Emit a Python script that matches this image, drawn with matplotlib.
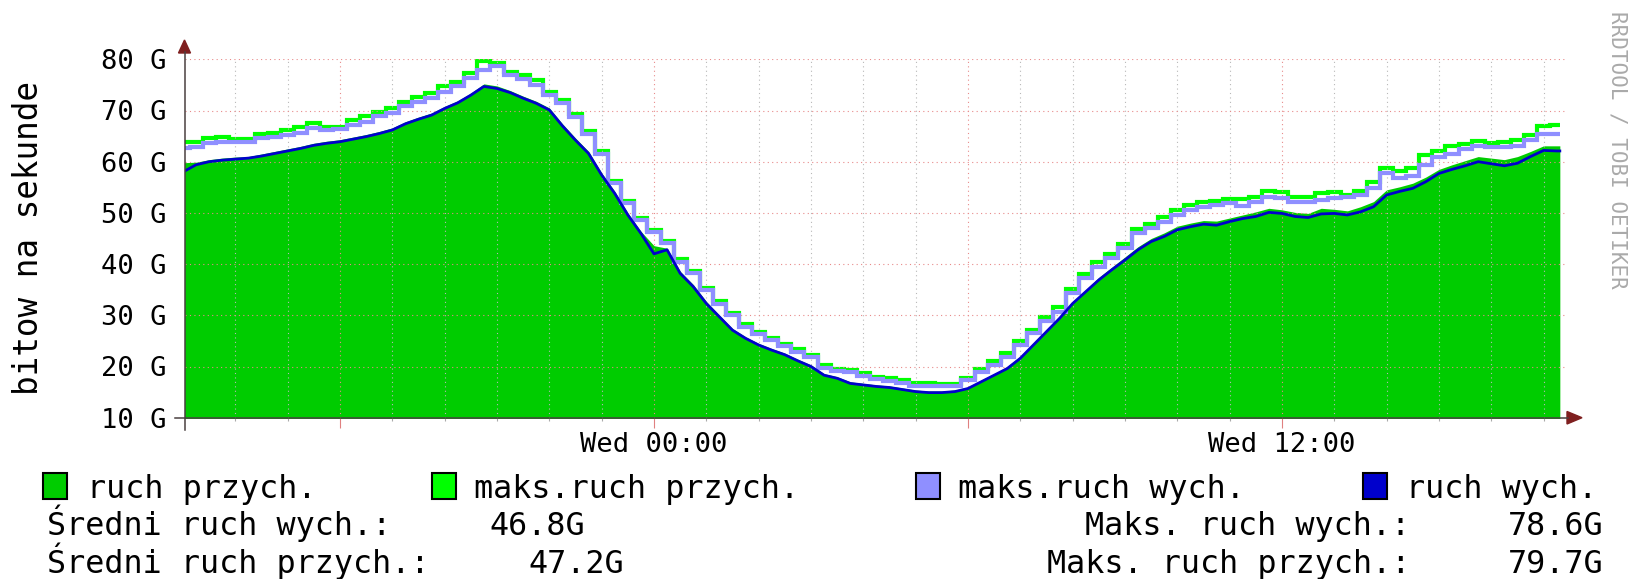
import numpy as np
import matplotlib
matplotlib.use("Agg")
import matplotlib.pyplot as plt
from matplotlib.lines import Line2D
from matplotlib.patches import Polygon, Rectangle

W, H = 1632, 579

# time axis: hours relative to Wed 00:00, 15 minute samples
hours = np.arange(-9.0, 17.26, 0.25)
data_end = 17.31

# ruch przych. (avg in), G bit/s
in_avg = [
    59.8, 59.9, 60.4, 60.7, 60.9, 61.0, 61.5, 62.0, 62.5, 63.0, 63.6, 64.0, 64.3, 64.8,
    65.3, 65.9, 66.6, 67.8, 68.7, 69.5, 70.8, 71.9, 73.4, 75.2, 74.8, 73.9, 72.8, 71.8,
    70.5, 67.4, 64.6, 62.0, 57.8, 54.2, 50.0, 46.4, 43.6, 43.1, 38.6, 36.0, 32.7, 30.0,
    27.4, 25.8, 24.5, 23.5, 22.6, 21.4, 20.3, 18.6, 18.0, 17.0, 16.7, 16.4, 16.2,
    15.8, 15.4, 15.2, 15.2, 15.4, 16.0, 17.3, 18.6, 20.0, 22.0, 24.6, 27.2, 29.8, 32.7,
    35.0, 37.4, 39.4, 41.4, 43.4, 45.0, 46.1, 47.4, 48.0, 48.5, 48.4, 49.0,
    49.6, 50.2, 50.9, 50.6, 50.1, 49.9, 50.9, 50.7, 50.4, 51.2, 52.2, 54.5, 55.1, 55.8,
    57.0, 58.5, 59.4, 60.2, 61.0, 60.7, 60.4, 61.0, 62.0, 63.1, 63.1,
]
# ruch wych. (avg out)
out_avg = [
    58.0, 59.4, 60.0, 60.3, 60.5, 60.7, 61.1, 61.6, 62.1, 62.6, 63.2, 63.6, 63.9, 64.4,
    64.9, 65.5, 66.2, 67.4, 68.3, 69.1, 70.4, 71.5, 73.0, 74.7, 74.3, 73.5, 72.4, 71.4,
    70.1, 67.0, 64.2, 61.6, 57.4, 53.8, 49.6, 46.0, 42.0, 42.8, 38.2, 35.6, 32.3, 29.7,
    27.1, 25.5, 24.2, 23.2, 22.3, 21.1, 20.0, 18.3, 17.7, 16.7, 16.4, 16.1, 15.9,
    15.5, 15.1, 14.9, 14.9, 15.1, 15.7, 17.0, 18.3, 19.6, 21.6, 24.2, 26.8, 29.4, 32.3,
    34.6, 36.9, 38.9, 40.8, 42.8, 44.4, 45.4, 46.7, 47.3, 47.8, 47.6, 48.3,
    48.9, 49.3, 50.1, 49.9, 49.3, 49.1, 49.8, 49.9, 49.6, 50.2, 51.2, 53.5, 54.2, 54.8,
    56.1, 57.7, 58.5, 59.2, 60.0, 59.6, 59.2, 59.7, 61.0, 62.2, 62.1,
]
# maks.ruch przych. (max in)
in_max = [
    63.9, 63.9, 64.6, 64.9, 64.4, 64.4, 65.5, 65.7, 66.2, 66.7, 67.5, 66.8, 66.7, 68.2,
    68.9, 69.8, 70.4, 71.7, 72.7, 73.4, 74.7, 75.6, 77.3, 79.7, 79.3, 77.6, 76.9, 76.0,
    73.6, 72.0, 69.3, 66.0, 62.0, 56.3, 52.4, 49.0, 46.6, 44.5, 40.9, 38.6, 35.3, 32.8,
    30.5, 28.3, 26.8, 25.6, 24.4, 23.4, 22.3, 20.3, 19.6, 19.4, 18.7, 18.0, 17.7,
    17.3, 16.8, 16.7, 16.6, 16.6, 17.8, 19.6, 21.0, 22.6, 24.9, 27.2, 29.6, 31.6, 35.2,
    38.1, 40.4, 42.0, 44.0, 46.9, 47.9, 49.2, 50.5, 51.5, 52.1, 52.4, 52.8,
    52.7, 53.2, 54.2, 54.0, 53.2, 53.2, 53.8, 54.0, 53.5, 54.2, 56.1, 58.7, 58.1, 58.7,
    61.3, 62.0, 63.1, 63.5, 64.1, 63.6, 63.9, 64.2, 65.2, 66.9, 67.2,
]
# maks.ruch wych. (max out)
out_max = [
    62.6, 62.8, 63.6, 63.9, 63.9, 63.9, 64.6, 64.9, 65.2, 65.7, 66.5, 66.2, 66.3, 67.2,
    67.8, 68.9, 69.5, 70.8, 71.7, 72.4, 73.7, 74.7, 76.3, 77.9, 78.6, 76.9, 76.1, 75.0,
    73.0, 71.4, 68.8, 65.5, 61.6, 55.8, 51.9, 48.6, 46.2, 44.1, 40.5, 38.2, 34.9, 32.3,
    30.1, 27.8, 26.4, 25.2, 24.0, 22.9, 21.9, 19.8, 19.2, 19.0, 18.2, 17.5, 17.2,
    16.7, 16.1, 16.1, 16.1, 16.1, 17.4, 19.0, 20.3, 21.9, 24.2, 26.5, 28.8, 30.7, 34.3,
    37.2, 39.5, 41.1, 43.1, 46.0, 47.0, 48.3, 49.6, 50.6, 51.2, 51.5, 51.9,
    51.4, 52.2, 53.2, 53.0, 52.2, 52.2, 52.5, 53.0, 53.2, 53.5, 54.8, 57.7, 56.8, 57.2,
    59.4, 61.0, 61.6, 62.4, 63.1, 62.8, 62.8, 63.1, 64.2, 65.5, 65.5,
]

major_hours = [-6, 0, 6, 12]
major_labels = {0: "Wed 00:00", 12: "Wed 12:00"}
y_ticks = [10, 20, 30, 40, 50, 60, 70, 80]

legend_names = ["ruch przych.", "maks.ruch przych.", "maks.ruch wych.", "ruch wych."]
legend_colors = ["#00CC00", "#00FF00", "#8F8FFF", "#0000CC"]
avg_out_txt, avg_in_txt = "46.8G", "47.2G"
max_out_txt, max_in_txt = "78.6G", "79.7G"


def fx(px):
    return px / W


def fy(py):
    return 1 - py / H


plt.rcParams["font.family"] = ["DejaVu Sans Mono", "DejaVu Sans"]
fig = plt.figure(figsize=(W / 100, H / 100), dpi=100)
fig.patch.set_facecolor("white")

ax = fig.add_axes([fx(185), fy(417.7), (1567 - 185) / W, (417.7 - 59.3) / H])

# averages drawn as a line through the samples, maxima as steps centred on them
avg_x = np.append(hours, data_end)
ax.fill_between(avg_x, 0, np.append(in_avg, in_avg[-1]), color=legend_colors[0],
                lw=0, zorder=1)
step_edges = np.append(hours - 0.125, data_end)
ax.stairs(in_max, step_edges, baseline=None, color=legend_colors[1], lw=3.0, zorder=2)
ax.stairs(out_max, step_edges, baseline=None, color=legend_colors[2], lw=3.0, zorder=3)
ax.plot(avg_x, np.append(out_avg, out_avg[-1]), color=legend_colors[3], lw=2.0, zorder=4)

ax.set_xlim(-8.962, 17.447)
ax.set_ylim(10, 80)

ax.set_xticks(major_hours)
ax.set_xticklabels([major_labels.get(h, "") for h in major_hours])
ax.set_xticks(np.arange(-8, 18, 1), minor=True)
ax.set_yticks(y_ticks)
ax.set_yticklabels([f"{v} G" for v in y_ticks])

ax.tick_params(axis="y", length=0, pad=13, labelsize=19.5)
ax.tick_params(axis="x", which="major", length=7, width=0.8, color="#E08080",
               pad=3, labelsize=19.5)
ax.tick_params(axis="x", which="minor", length=2.5, width=0.8, color="#AAAAAA")

ax.grid(True, which="major", axis="both", color="#E88A8A", lw=0.8, linestyle=(0, (1, 3)))
ax.grid(True, which="minor", axis="x", color="#B8B8B8", lw=0.8, linestyle=(0, (1, 3)))
ax.set_axisbelow(False)
for s in ax.spines.values():
    s.set_visible(False)

# axes lines with arrows, rrdtool style
axis_c = "#4A4040"
arrow_c = "#7F1F1F"
fig.add_artist(Line2D([fx(175), fx(1568)], [fy(417.7), fy(417.7)], color=axis_c, lw=1.1))
fig.add_artist(Line2D([fx(184.5), fx(184.5)], [fy(430), fy(52)], color=axis_c, lw=1.1))
fig.add_artist(Polygon([(fx(1567), fy(411.5)), (fx(1582), fy(417.7)), (fx(1567), fy(424))],
                       closed=True, color=arrow_c, transform=fig.transFigure))
fig.add_artist(Polygon([(fx(178.5), fy(53)), (fx(184.5), fy(40)), (fx(190.5), fy(53))],
                       closed=True, color=arrow_c, transform=fig.transFigure))

fig.text(fx(29), fy(237.5), "bitow na sekunde", rotation=90, ha="center", va="center",
         fontsize=23.5)
fig.text(fx(1617), fy(150), "RRDTOOL / TOBI OETIKER", rotation=270, ha="center",
         va="center", fontsize=15, color="#AAAAAA")

fs = 22.9

# legend row
box_x = [42.7, 431.5, 916, 1363]
text_x = [87, 474, 958, 1406]
for bx, tx, name, c in zip(box_x, text_x, legend_names, legend_colors):
    fig.add_artist(Rectangle((fx(bx), fy(499.3)), 24 / W, 26.6 / H, facecolor=c,
                             edgecolor="black", lw=1.5, transform=fig.transFigure))
    fig.text(fx(tx), fy(498), name, ha="left", va="baseline", fontsize=fs)

fig.text(fx(47), fy(535), "Średni ruch wych.:", ha="left", va="baseline", fontsize=fs)
fig.text(fx(489), fy(535), avg_out_txt, ha="left", va="baseline", fontsize=fs)
fig.text(fx(1410), fy(535), "Maks. ruch wych.:", ha="right", va="baseline", fontsize=fs)
fig.text(fx(1604), fy(535), max_out_txt, ha="right", va="baseline", fontsize=fs)
fig.text(fx(47), fy(572.7), "Średni ruch przych.:", ha="left", va="baseline", fontsize=fs)
fig.text(fx(528), fy(572.7), avg_in_txt, ha="left", va="baseline", fontsize=fs)
fig.text(fx(1410), fy(572.7), "Maks. ruch przych.:", ha="right", va="baseline", fontsize=fs)
fig.text(fx(1604), fy(572.7), max_in_txt, ha="right", va="baseline", fontsize=fs)

fig.savefig("out.png", dpi=100)
